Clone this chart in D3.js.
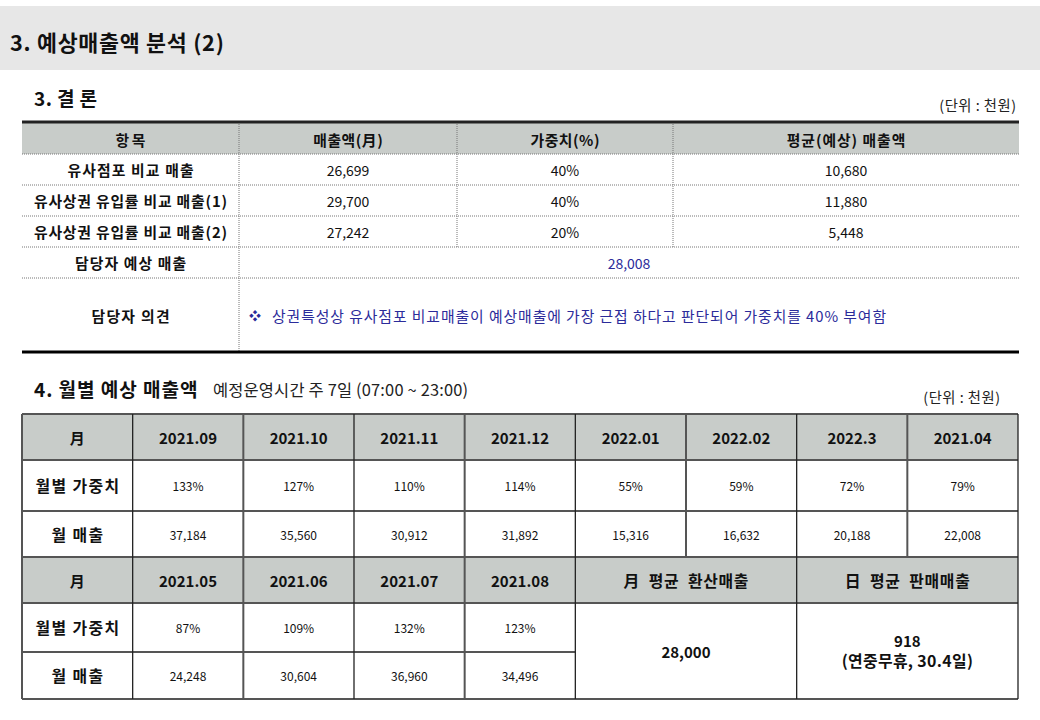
<!DOCTYPE html>
<html><head><meta charset="utf-8">
<script src="https://cdn.jsdelivr.net/npm/d3@7"></script>
<style>body{margin:0;background:#fff}svg{display:block}</style>
</head><body><svg id="c" width="1040" height="720"></svg>
<script>
// ---------- DATA ----------
const pageTitle = "3. 예상매출액 분석 (2)";
const sec3Title = "3. 결 론";
const unitLabel = "(단위 : 천원)";
const summaryHeaders = ["항목", "매출액(月)", "가중치(%)", "평균(예상) 매출액"];
const summaryItems = ["유사점포 비교 매출", "유사상권 유입률 비교 매출(1)", "유사상권 유입률 비교 매출(2)"];
const summarySales = [26699, 29700, 27242];
const summaryWeights = [40, 40, 20];
const summaryAvg = [10680, 11880, 5448];
const forecastLabel = "담당자 예상 매출";
const managerForecast = 28008;
const opinionLabel = "담당자 의견";
const managerOpinion = "상권특성상 유사점포 비교매출이 예상매출에 가장 근접 하다고 판단되어 가중치를 40% 부여함";
const sec4Title = "4. 월별 예상 매출액";
const sec4Sub = "예정운영시간 주 7일 (07:00 ~ 23:00)";
const rowLabels = ["月", "월별 가중치", "월 매출"];
const months1 = ["2021.09", "2021.10", "2021.11", "2021.12", "2022.01", "2022.02", "2022.3", "2021.04"];
const weights1 = [133, 127, 110, 114, 55, 59, 72, 79];
const sales1 = [37184, 35560, 30912, 31892, 15316, 16632, 20188, 22008];
const months2 = ["2021.05", "2021.06", "2021.07", "2021.08"];
const weights2 = [87, 109, 132, 123];
const sales2 = [24248, 30604, 36960, 34496];
const summaryBoxHeaders = ["月  평균  환산매출", "日  평균  판매매출"];
const monthlyAvg = 28000;
const dailyAvg = 918;
const dailyNote = "(연중무휴, 30.4일)";

// ---------- DRAW ----------
const svg = d3.select("#c");
const FONT = "'Malgun Gothic','Noto Sans CJK KR','Noto Sans',sans-serif";
const fmt = d3.format(",");
const txt = (x, y, s, o = {}) => {
  const size = o.size || 14;
  const t = svg.append("text")
    .attr("x", x).attr("y", y).text(s)
    .attr("font-family", FONT)
    .attr("font-size", size)
    .attr("font-weight", o.bold ? 700 : 400)
    .attr("fill", o.fill || "#111")
    .attr("text-anchor", o.anchor || "middle")
    .attr("dominant-baseline", "central")
    .style("white-space", "pre");
  // the original font has wider Hangul: enlarge slightly and spread to target width
  const n = (s.match(/[\uAC00-\uD7A3]/g) || []).length;
  if (n > 0) {
    const target = t.node().getComputedTextLength() + n * size * 0.15;
    t.attr("font-size", size * 1.06);
    const w2 = t.node().getComputedTextLength();
    if (target > w2) t.attr("textLength", target).attr("lengthAdjust", "spacing");
  }
  return t;
};
const line = (x1, y1, x2, y2, stroke, w, dash) => svg.append("line")
  .attr("x1", x1).attr("y1", y1).attr("x2", x2).attr("y2", y2)
  .attr("stroke", stroke).attr("stroke-width", w)
  .attr("stroke-dasharray", dash || null);

// page header band
svg.append("rect").attr("x", 0).attr("y", 6).attr("width", 1040).attr("height", 64).attr("fill", "#e7e7e7");
txt(10, 41, pageTitle, {size: 20.5, bold: true, anchor: "start"});

// ---- Section 3 table ----
txt(34, 97, sec3Title, {size: 18, bold: true, anchor: "start"});
txt(1016, 104, unitLabel, {size: 13.5, anchor: "end", fill: "#222"});

const t1Cols = [22, 239, 457, 673, 1019];
const t1x = d3.scaleOrdinal().domain(d3.range(4)).range(d3.range(4).map(i => (t1Cols[i] + t1Cols[i + 1]) / 2));
const t1Rows = [122, 154, 185, 216, 247, 278, 352];

svg.append("rect").attr("x", 22).attr("y", t1Rows[0]).attr("width", 997).attr("height", t1Rows[1] - t1Rows[0]).attr("fill", "#c8ccc9");
for (let r = 1; r <= 5; r++) line(22, t1Rows[r], 1019, t1Rows[r], "#777", 1, "1,1");
line(239, t1Rows[0], 239, t1Rows[6], "#777", 1, "1,1");
[457, 673].forEach(x => line(x, t1Rows[0], x, t1Rows[4], "#777", 1, "1,1"));
line(22, t1Rows[0], 1019, t1Rows[0], "#222", 3);
line(22, t1Rows[6], 1019, t1Rows[6], "#000", 3);

summaryHeaders.forEach((h, i) => txt(t1x(i), (t1Rows[0] + t1Rows[1]) / 2 + 1, h, {bold: true, size: 14}));
summaryItems.forEach((it, r) => {
  const cy = (t1Rows[r + 1] + t1Rows[r + 2]) / 2;
  txt(t1x(0), cy, it, {bold: true, size: 14});
  txt(t1x(1), cy, fmt(summarySales[r]), {size: 14});
  txt(t1x(2), cy, summaryWeights[r] + "%", {size: 14});
  txt(t1x(3), cy, fmt(summaryAvg[r]), {size: 14});
});
txt(t1x(0), (t1Rows[4] + t1Rows[5]) / 2, forecastLabel, {bold: true, size: 14});
txt((239 + 1019) / 2, (t1Rows[4] + t1Rows[5]) / 2, fmt(managerForecast), {size: 14, fill: "#2b2b9a"});
txt(t1x(0), (t1Rows[5] + t1Rows[6]) / 2, opinionLabel, {bold: true, size: 14});
txt(249, (t1Rows[5] + t1Rows[6]) / 2, "❖", {size: 12, anchor: "start", fill: "#2b2b9a"});
txt(272, (t1Rows[5] + t1Rows[6]) / 2, managerOpinion, {size: 14, anchor: "start", fill: "#2b2b9a"});

// ---- Section 4 table ----
txt(34, 388, sec4Title, {size: 18, bold: true, anchor: "start"});
txt(213, 389, sec4Sub, {size: 15.5, anchor: "start", fill: "#222"});
txt(1000, 396, unitLabel, {size: 13.5, anchor: "end", fill: "#222"});

const x2 = d3.scaleBand().domain(d3.range(9)).range([22, 1018]).paddingInner(0).paddingOuter(0);
const rowsY = [414, 460, 511, 557, 603, 652, 699];
const cx = i => x2(i) + x2.bandwidth() / 2;
const cy = r => (rowsY[r] + rowsY[r + 1]) / 2;

[0, 3].forEach(r => svg.append("rect").attr("x", 22).attr("y", rowsY[r]).attr("width", 996)
  .attr("height", rowsY[r + 1] - rowsY[r]).attr("fill", "#c8ccc9"));

rowsY.forEach((y, r) => {
  if (r === 5) line(22, y, x2(5), y, "#555", 2);
  else line(22, y, 1018, y, "#555", 2);
});
d3.range(10).forEach(i => {
  const x = i < 9 ? x2(i) : 1018;
  const full = [0, 1, 2, 3, 4, 5, 7, 9].includes(i);
  line(x, rowsY[0], x, full ? rowsY[6] : rowsY[3], i % 2 ? "#222" : "#555", i % 2 ? 1.3 : 2);
});

txt(cx(0), cy(0), rowLabels[0], {bold: true, size: 15});
txt(cx(0), cy(1), rowLabels[1], {bold: true, size: 15});
txt(cx(0), cy(2), rowLabels[2], {bold: true, size: 15});
months1.forEach((m, i) => {
  txt(cx(i + 1), cy(0), m, {bold: true, size: 15});
  txt(cx(i + 1), cy(1), weights1[i] + "%", {size: 12});
  txt(cx(i + 1), cy(2), fmt(sales1[i]), {size: 12});
});
txt(cx(0), cy(3), rowLabels[0], {bold: true, size: 15});
txt(cx(0), cy(4), rowLabels[1], {bold: true, size: 15});
txt(cx(0), cy(5), rowLabels[2], {bold: true, size: 15});
months2.forEach((m, i) => {
  txt(cx(i + 1), cy(3), m, {bold: true, size: 15});
  txt(cx(i + 1), cy(4), weights2[i] + "%", {size: 12});
  txt(cx(i + 1), cy(5), fmt(sales2[i]), {size: 12});
});
const mA = (x2(5) + x2(7)) / 2, mB = (x2(7) + 1018) / 2;
txt(mA, cy(3), summaryBoxHeaders[0], {bold: true, size: 15});
txt(mB, cy(3), summaryBoxHeaders[1], {bold: true, size: 15});
const mid = (rowsY[4] + rowsY[6]) / 2;
txt(mA, mid, fmt(monthlyAvg), {bold: true, size: 15});
txt(mB, mid - 11, fmt(dailyAvg), {bold: true, size: 15});
txt(mB, mid + 9, dailyNote, {bold: true, size: 15});
</script></body></html>
